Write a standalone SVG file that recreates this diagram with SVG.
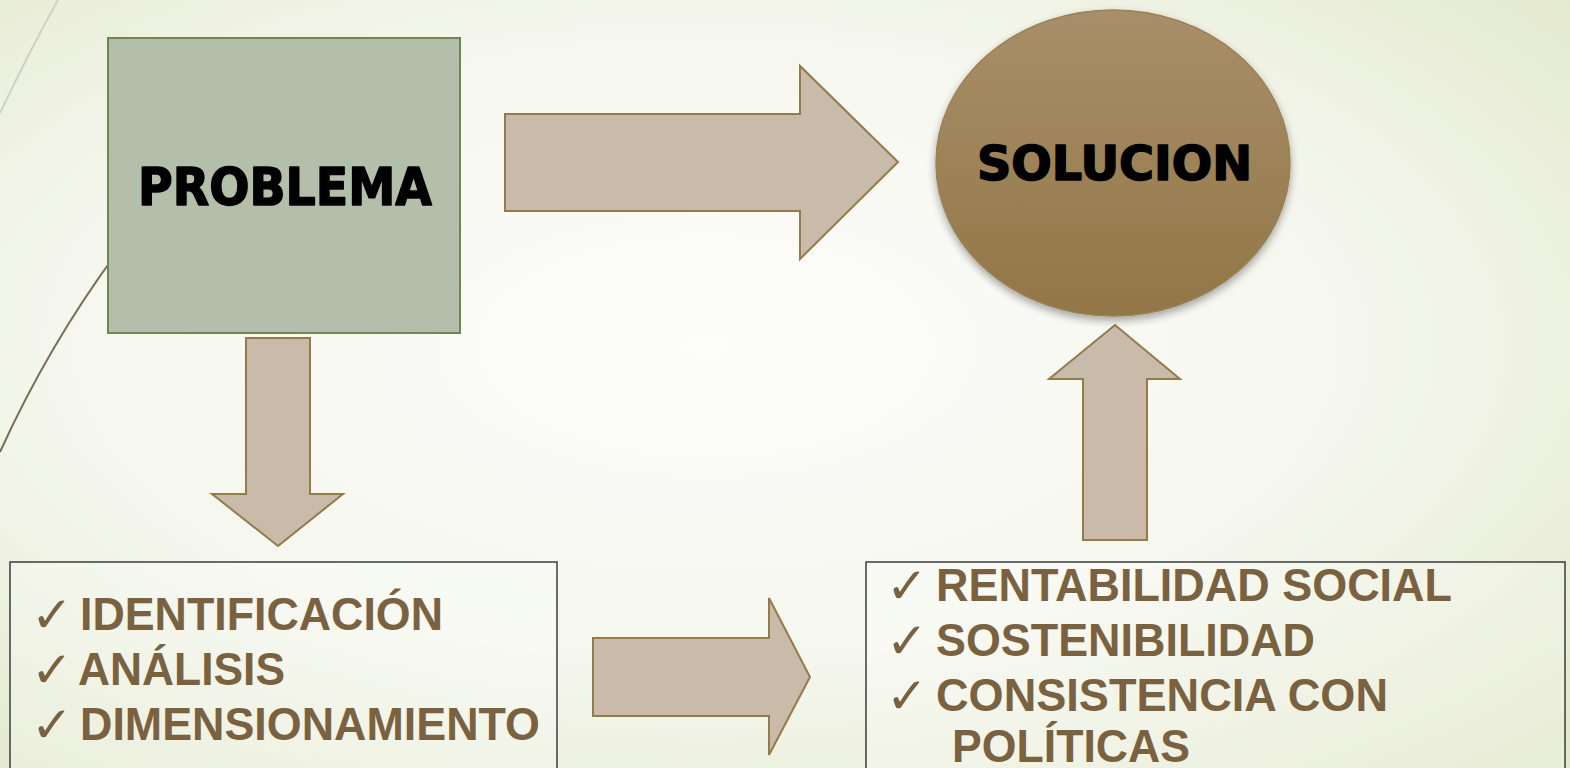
<svg xmlns="http://www.w3.org/2000/svg" width="1570" height="768" viewBox="0 0 1570 768">
<defs>
<radialGradient id="bg" cx="0.45" cy="0.45" r="0.75">
<stop offset="0" stop-color="#fdfdfb"/>
<stop offset="0.55" stop-color="#f5f7ee"/>
<stop offset="1" stop-color="#e2e8cb"/>
</radialGradient>
<linearGradient id="ell" x1="0" y1="0" x2="0" y2="1">
<stop offset="0" stop-color="#a88f69"/>
<stop offset="1" stop-color="#927646"/>
</linearGradient>
<filter id="sh" x="-20%" y="-20%" width="140%" height="140%">
<feGaussianBlur in="SourceAlpha" stdDeviation="4"/>
<feOffset dx="0" dy="4" result="b"/>
<feComponentTransfer><feFuncA type="linear" slope="0.35"/></feComponentTransfer>
<feMerge><feMergeNode/><feMergeNode in="SourceGraphic"/></feMerge>
</filter>
<style>
.arrow{fill:#c8bba9;stroke:#957a4b;stroke-width:2;stroke-linejoin:miter}
.big{font-family:"DejaVu Sans","Liberation Sans",sans-serif;font-weight:bold;fill:#000;stroke:#000;stroke-width:1.6;stroke-linejoin:round}
.item{font-family:"Liberation Sans",Arial,sans-serif;font-weight:bold;font-size:46px;fill:#7a6240}
.chk{font-family:"DejaVu Serif","DejaVu Sans",serif;font-size:50px;fill:#7a6240}
.box{fill:#ffffff;fill-opacity:0.25;stroke:#3c3c3c;stroke-width:1.5}
</style>
</defs>
<rect width="1570" height="768" fill="url(#bg)"/>
<path d="M58 0 Q30 50 0 113" fill="none" stroke="#cfd2c4" stroke-width="2"/>
<path d="M150 210 Q60 320 0 452" fill="none" stroke="#7a6f55" stroke-width="2"/>

<g id="connectors">
<polygon class="arrow" points="505,114 800,114 800,66 898,162 800,259 800,211 505,211"/>
<polygon class="arrow" points="246,338 310,338 310,494 343,494 278,546 212,494 246,494"/>
<polygon class="arrow" points="593,638 769,638 769,598 810,677 769,755 769,716 593,716"/>
<polygon class="arrow" points="1083,540 1083,379 1049,379 1115,325 1180,379 1147,379 1147,540"/>
</g>

<g id="problema">
<rect x="108" y="38" width="352" height="295" fill="#b4bfab" stroke="#6f874f" stroke-width="2"/>
<text class="big" x="138" y="205" font-size="51" textLength="294" lengthAdjust="spacingAndGlyphs">PROBLEMA</text>
</g>

<g id="solucion">
<ellipse cx="1113" cy="163" rx="177" ry="153" fill="url(#ell)" stroke="#9a8158" stroke-width="1.5" filter="url(#sh)"/>
<text class="big" x="977" y="180" font-size="48" textLength="275" lengthAdjust="spacingAndGlyphs">SOLUCION</text>
</g>

<g id="analisis">
<rect class="box" x="10" y="562" width="547" height="220"/>
<text class="chk" x="31" y="632">✓</text>
<text class="item" x="80" y="630" textLength="363" lengthAdjust="spacingAndGlyphs">IDENTIFICACIÓN</text>
<text class="chk" x="31" y="687">✓</text>
<text class="item" x="78" y="685" textLength="207" lengthAdjust="spacingAndGlyphs">ANÁLISIS</text>
<text class="chk" x="31" y="742">✓</text>
<text class="item" x="80" y="740" textLength="460" lengthAdjust="spacingAndGlyphs">DIMENSIONAMIENTO</text>
</g>

<g id="criterios">
<rect class="box" x="866" y="562" width="699" height="220"/>
<text class="chk" x="886" y="603">✓</text>
<text class="item" x="936" y="601" textLength="516" lengthAdjust="spacingAndGlyphs">RENTABILIDAD SOCIAL</text>
<text class="chk" x="886" y="658">✓</text>
<text class="item" x="936" y="656" textLength="379" lengthAdjust="spacingAndGlyphs">SOSTENIBILIDAD</text>
<text class="chk" x="886" y="713">✓</text>
<text class="item" x="936" y="711" textLength="452" lengthAdjust="spacingAndGlyphs">CONSISTENCIA CON</text>
<text class="item" x="952" y="762" textLength="238" lengthAdjust="spacingAndGlyphs">POLÍTICAS</text>
</g>
</svg>
